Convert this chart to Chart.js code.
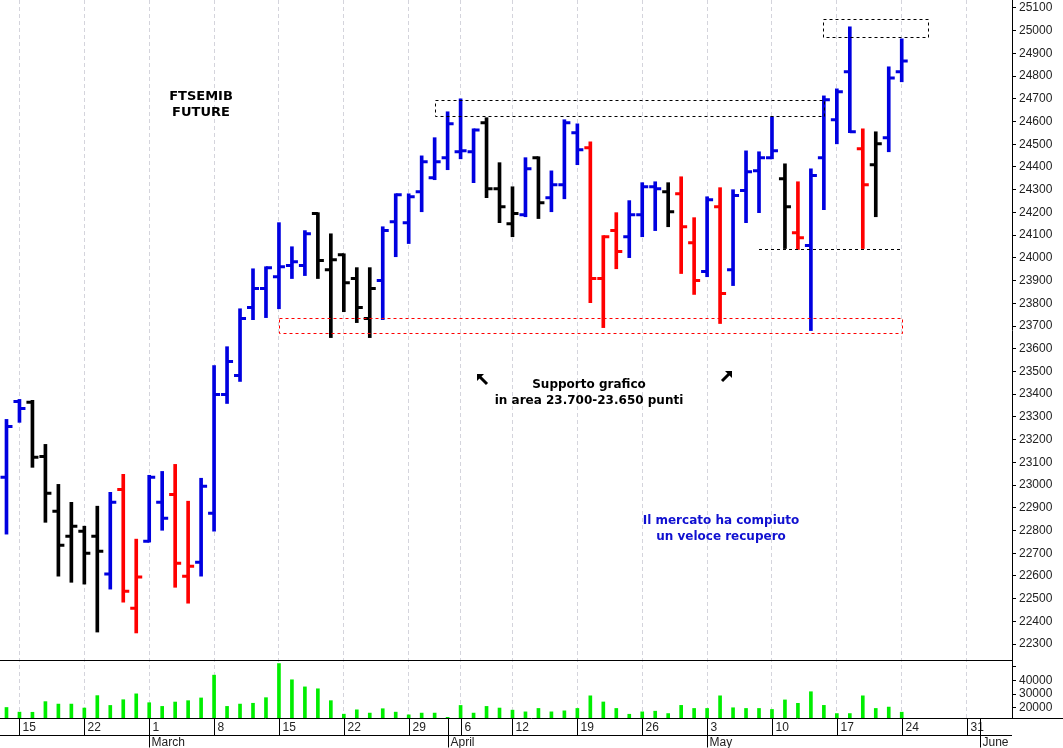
<!DOCTYPE html>
<html><head><meta charset="utf-8">
<script src="https://cdn.jsdelivr.net/npm/chart.js@4.4.0/dist/chart.umd.min.js"></script>
<style>html,body{margin:0;padding:0;background:#fff}#wrap{width:1063px;height:748px;position:relative}</style>
</head><body><div id="wrap"><canvas id="c"></canvas></div>
<script>
// trading days (month-day) + empty future slots
const dates = ['02-12','02-15','02-16','02-17','02-18','02-19','02-22','02-23','02-24','02-25','02-26',
'03-01','03-02','03-03','03-04','03-05','03-08','03-09','03-10','03-11','03-12','03-15','03-16','03-17','03-18','03-19',
'03-22','03-23','03-24','03-25','03-26','03-29','03-30','03-31',
'04-01','04-06','04-07','04-08','04-09','04-12','04-13','04-14','04-15','04-16','04-19','04-20','04-21','04-22','04-23',
'04-26','04-27','04-28','04-29','04-30',
'05-03','05-04','05-05','05-06','05-07','05-10','05-11','05-12','05-13','05-14','05-17','05-18','05-19','05-20','05-21','05-24',
'05-25','05-26','05-27','05-28','05-31','06-01','06-02','06-03'];
const weekStarts = ['02-15','02-22','03-01','03-08','03-15','03-22','03-29','04-06','04-12','04-19','04-26','05-03','05-10','05-17','05-24','05-31'];
const monthStarts = {'03-01':'March','04-01':'April','05-03':'May','06-01':'June'};
const openP  = [23034,23368,23364,23126,22885,22775,22797,22775,22608,22981,22458,22753,22924,22959,22599,22660,22876,23399,23482,23781,23865,23917,23966,23966,24195,23948,24014,23909,23733,23900,24159,24155,24291,24353,24441,24467,24467,24595,24304,24150,24190,24441,24265,24322,24551,24485,23909,24120,24093,24190,24313,24291,24282,24067,23940,24225,23948,24296,24383,24441,24348,24111,24054,24441,24608,24819,24480,24410,24529,24819];
const highP  = [23289,23377,23373,23179,23003,22924,22819,22907,22968,23047,22762,23043,23060,23091,22929,23030,23526,23609,23776,23952,23961,24155,24049,24120,24199,24106,24018,23957,23957,24137,24282,24282,24449,24529,24643,24700,24568,24617,24419,24313,24441,24445,24383,24608,24590,24511,24098,24199,24252,24331,24335,24331,24357,24177,24269,24309,24300,24471,24467,24621,24414,24335,24392,24713,24744,25017,24568,24555,24841,24964];
const lowP   = [22784,23276,23078,22836,22599,22572,22564,22353,22542,22485,22349,22749,22801,22550,22480,22599,22797,23359,23456,23728,23737,23776,23909,23922,23909,23649,23763,23715,23649,23728,24005,24063,24203,24344,24388,24436,24331,24265,24155,24093,24181,24173,24203,24260,24410,23803,23693,23952,24001,24093,24120,24137,23931,23839,23917,23711,23878,24155,24199,24436,24041,24037,23680,24212,24502,24551,24041,24181,24467,24775];
const closeP = [23258,23337,23122,22964,22735,22819,22700,22709,22924,22533,22595,23034,22854,22656,22643,22995,23399,23544,23733,23865,23957,23961,23983,24106,23988,23992,23891,23781,23865,24120,24278,24269,24423,24423,24590,24471,24563,24304,24225,24195,24392,24243,24322,24595,24476,23909,24093,24028,24190,24313,24304,24203,24137,23900,24256,23843,24274,24379,24441,24471,24225,24089,24362,24696,24731,24555,24322,24502,24792,24867];
const signal = 'BBKKKKKKBRRBBRRBBBBBBBBBKKKKKBBBBBBBBKKKBKBBBRRRBBBKRRBRBBBBKRBBBBRKBB';
const volume = [20200,16800,16700,24500,22700,22700,19800,28900,21700,25900,30200,23700,21000,24200,25200,27200,43900,21000,22700,23300,27400,52400,40500,35300,33900,25200,15300,18500,16100,19300,16800,14800,16100,16100,13000,21700,16100,21000,19800,18250,17000,19500,17000,17750,19500,28750,24250,19500,15250,17000,17500,15750,21750,19500,19500,28750,20000,19500,19500,18750,25750,23250,31750,21750,15750,15750,28750,19500,20500,16750];
const priceTickValues = [22300,22400,22500,22600,22700,22800,22900,23000,23100,23200,23300,23400,23500,23600,23700,23800,23900,24000,24100,24200,24300,24400,24500,24600,24700,24800,24900,25000,25100];
const volTickValues = [20000,30000,40000,50000];
const volLabels = [20000,30000,40000];

const COL = {B:'#0000e0', R:'#ff0000', K:'#000000'};
const barColors = signal.split('').map(s => COL[s]);
const ranges = lowP.map((l,i) => [l, highP[i]]);

const boxes = [
  {x0:62.9, x1:71, y0:24973, y1:25052, color:'#000'},
  {x0:33, x1:63, y0:24625, y1:24696, color:'#000'},
  {x0:21, x1:69, y0:23671, y1:23737, color:'#f00'}
];
const hlines = [{x0:58, x1:69, y:24041, color:'#000'}];

const plugin = {
  id:'ohlc',
  beforeDraw(chart){
    const {ctx} = chart; ctx.save(); ctx.fillStyle='#fff'; ctx.fillRect(0,0,chart.width,chart.height); ctx.restore();
  },
  afterDatasetsDraw(chart){
    const {ctx, scales:{x, y, yv}} = chart;
    ctx.save();
    ctx.lineWidth = 3; ctx.lineCap = 'butt';
    for (let i=0;i<openP.length;i++){
      const px = x.getPixelForValue(i);
      ctx.strokeStyle = barColors[i];
      ctx.beginPath();
      const yo = y.getPixelForValue(openP[i]), yc = y.getPixelForValue(closeP[i]);
      ctx.moveTo(px-6, yo); ctx.lineTo(px, yo);
      ctx.moveTo(px, yc); ctx.lineTo(px+6, yc);
      ctx.stroke();
    }
    ctx.lineWidth = 1; ctx.setLineDash([3,3]);
    boxes.forEach(b => {
      ctx.strokeStyle = b.color;
      const X0 = x.getPixelForValue(b.x0), X1 = x.getPixelForValue(b.x1);
      const Y0 = y.getPixelForValue(b.y1), Y1 = y.getPixelForValue(b.y0);
      ctx.strokeRect(Math.round(X0)+0.5, Math.round(Y0)+0.5, Math.round(X1-X0), Math.round(Y1-Y0));
    });
    hlines.forEach(h => {
      ctx.strokeStyle = h.color;
      const Y = Math.round(y.getPixelForValue(h.y))+0.5;
      ctx.beginPath(); ctx.moveTo(x.getPixelForValue(h.x0), Y); ctx.lineTo(x.getPixelForValue(h.x1), Y); ctx.stroke();
    });
    ctx.setLineDash([]);
    ctx.textAlign='center'; ctx.textBaseline='middle';
    ctx.font = 'bold 13px "DejaVu Sans"'; ctx.fillStyle='#000';
    ctx.fillText('FTSEMIB', 201, 97); ctx.fillText('FUTURE', 201, 113);
    ctx.font = 'bold 12px "DejaVu Sans"';
    ctx.fillText('Supporto grafico', 589, 385); ctx.fillText('in area 23.700-23.650 punti', 589, 401);
    ctx.fillStyle = '#1010d0';
    ctx.fillText('Il mercato ha compiuto', 721, 521); ctx.fillText('un veloce recupero', 721, 537);
    ctx.strokeStyle='#000'; ctx.fillStyle='#000'; ctx.lineWidth=3;
    const arrow = (tx,ty,dx,dy) => {
      ctx.beginPath(); ctx.moveTo(tx+dx*3, ty+dy*3); ctx.lineTo(tx+dx*10, ty+dy*10); ctx.stroke();
      ctx.beginPath(); ctx.moveTo(tx,ty); ctx.lineTo(tx+dx*7, ty); ctx.lineTo(tx, ty+dy*7); ctx.closePath(); ctx.fill();
    };
    arrow(477,374,1,1); arrow(732,371,-1,1);
    ctx.lineWidth=1; ctx.strokeStyle='#000';
    ctx.beginPath();
    ctx.moveTo(0, Math.round(yv.top)+0.5); ctx.lineTo(x.right, Math.round(yv.top)+0.5);
    ctx.stroke();
    ctx.restore();
  },
  afterDraw(chart){
    const {ctx, scales:{x}} = chart;
    ctx.save();
    const top = Math.round(x.top)+0.5, mid = top+17, bot = chart.height-0.5;
    ctx.strokeStyle='#000'; ctx.lineWidth=1;
    ctx.beginPath();
    ctx.moveTo(0,top); ctx.lineTo(1063,top);
    ctx.moveTo(0,mid); ctx.lineTo(x.right,mid);
    ctx.stroke();
    ctx.font='12px "Liberation Sans"'; ctx.fillStyle='#222'; ctx.textBaseline='middle'; ctx.textAlign='left';
    dates.forEach((d,i) => {
      const px = Math.round(x.getPixelForValue(i))+0.5;
      if (weekStarts.includes(d)) {
        ctx.beginPath(); ctx.moveTo(px, top); ctx.lineTo(px, mid); ctx.stroke();
        ctx.fillText(String(parseInt(d.slice(3),10)), px+3, top+9);
      }
      if (monthStarts[d]) {
        ctx.beginPath(); ctx.moveTo(px, top); ctx.lineTo(px, bot); ctx.stroke();
        ctx.fillText(monthStarts[d], px+2, mid+7);
      }
    });
    ctx.restore();
  }
};

const yFit = w => s => { s.width = w; s.paddingTop = 0; s.paddingBottom = 0; };

new Chart(document.getElementById('c'), {
  type:'bar',
  data:{ labels: dates, datasets:[
    {data: ranges, yAxisID:'y', backgroundColor: barColors, barThickness:3, borderWidth:0, grouped:false},
    {data: volume, yAxisID:'yv', backgroundColor:'#00ee00', barThickness:3, borderWidth:0, grouped:false}
  ]},
  options:{
    responsive:true, maintainAspectRatio:false, animation:false, devicePixelRatio:1,
    layout:{padding:0},
    plugins:{legend:{display:false}, tooltip:{enabled:false}},
    scales:{
      x:{ offset:true,
        grid:{ offset:false, drawTicks:false,
          color: c => weekStarts.includes(dates[c.index]) ? '#d4d4dc' : 'rgba(0,0,0,0)' },
        border:{display:false, dash:[4,3]},
        ticks:{display:false, autoSkip:false},
        afterFit: s => { s.height = 30; } },
      y:{ position:'right', stack:'r', stackWeight:660, weight:1,
        min:22230, max:25135,
        afterBuildTicks: s => { s.ticks = priceTickValues.map(v => ({value:v})); },
        grid:{drawOnChartArea:false, tickLength:4, tickColor:'#000'},
        border:{color:'#000'},
        ticks:{autoSkip:false, color:'#222', font:{family:'Liberation Sans', size:12}, padding:3, callback: v => String(v)},
        afterFit: yFit(51) },
      yv:{ position:'right', stack:'r', stackWeight:58, weight:2,
        min:12500, max:55000,
        afterBuildTicks: s => { s.ticks = volTickValues.map(v => ({value:v})); },
        grid:{drawOnChartArea:false, tickLength:4, tickColor:'#000'},
        border:{color:'#000'},
        ticks:{autoSkip:false, color:'#222', font:{family:'Liberation Sans', size:12}, padding:3,
          callback: v => volLabels.includes(v) ? String(v) : ''},
        afterFit: yFit(51) }
    }
  },
  plugins:[plugin]
});
</script></body></html>
